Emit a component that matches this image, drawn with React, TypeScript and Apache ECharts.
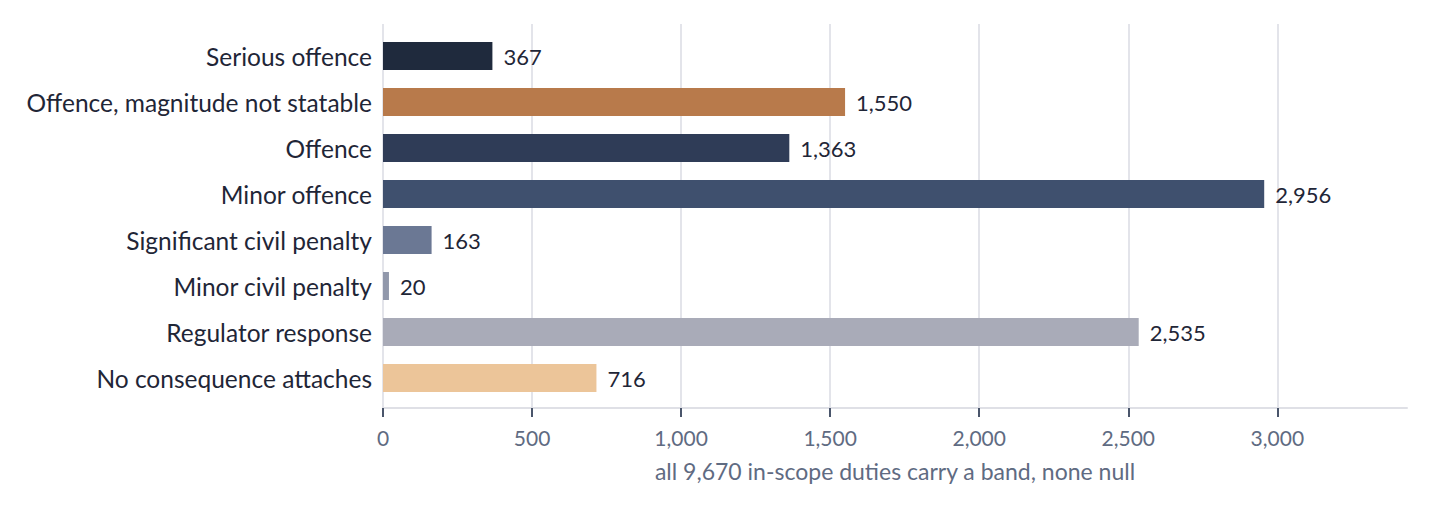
import { useEffect, useRef } from 'react';
import * as echarts from 'echarts';

const categories = [
  'Serious offence',
  'Offence, magnitude not statable',
  'Offence',
  'Minor offence',
  'Significant civil penalty',
  'Minor civil penalty',
  'Regulator response',
  'No consequence attaches',
];
const counts = [367, 1550, 1363, 2956, 163, 20, 2535, 716];
const barColors = ['#1f2a3d', '#b87a4b', '#2f3c57', '#3f506e', '#6b7894', '#9198ab', '#a9abb8', '#ecc599'];
const axisTitle = 'all 9,670 in-scope duties carry a band, none null';

const fmt = (v: number) => v.toLocaleString('en-US');

export default function App() {
  const chartRef = useRef<HTMLDivElement>(null);

  useEffect(() => {
    if (!chartRef.current) return;
    document.body.style.margin = '0';
    const chart = echarts.init(chartRef.current, undefined, { renderer: 'svg' });

    const font = 'Lato, "Noto Sans", sans-serif';
    const option: echarts.EChartsOption = {
      animation: false,
      textStyle: { fontFamily: font },
      grid: [
        // bars
        { left: 383, right: 23, top: 33, height: 368 },
        // gridlines + axis
        { left: 383, right: 23, top: 24, height: 384 },
      ],
      xAxis: [
        {
          gridIndex: 0,
          type: 'value',
          min: 0,
          max: 3435,
          show: false,
        },
        {
          gridIndex: 1,
          type: 'value',
          min: 0,
          max: 3435,
          interval: 500,
          name: axisTitle,
          nameLocation: 'middle',
          nameGap: 51,
          nameTextStyle: { color: '#5f6b82', fontSize: 23, fontFamily: font },
          axisLine: { show: true, lineStyle: { color: '#dfe0e6', width: 2 } },
          axisTick: { show: true, length: 9, lineStyle: { color: '#4a556b', width: 2 } },
          axisLabel: {
            color: '#5f6b82',
            fontSize: 21,
            margin: 19,
            formatter: (v: number) => fmt(v),
            showMaxLabel: false,
          },
          splitLine: { show: true, showMaxLine: false, lineStyle: { color: '#e3e4ea', width: 2 } },
        },
      ],
      yAxis: [
        {
          gridIndex: 0,
          type: 'category',
          inverse: true,
          data: categories,
          axisLine: { show: false },
          axisTick: { show: false },
          axisLabel: { color: '#1f2637', fontSize: 24.5, margin: 11 },
        },
        {
          gridIndex: 1,
          type: 'value',
          show: false,
          splitLine: { show: false },
        },
      ],
      series: [
        {
          type: 'bar',
          xAxisIndex: 0,
          yAxisIndex: 0,
          barWidth: 28,
          data: counts.map((v, i) => ({ value: v, itemStyle: { color: barColors[i] } })),
          label: {
            show: true,
            position: 'right',
            distance: 11,
            color: '#1f2637',
            fontSize: 22,
            formatter: (p: any) => fmt(p.value),
          },
        },
      ],
    };

    chart.setOption(option);
    return () => chart.dispose();
  }, []);

  return <div ref={chartRef} style={{ width: 1430, height: 507 }} />;
}
